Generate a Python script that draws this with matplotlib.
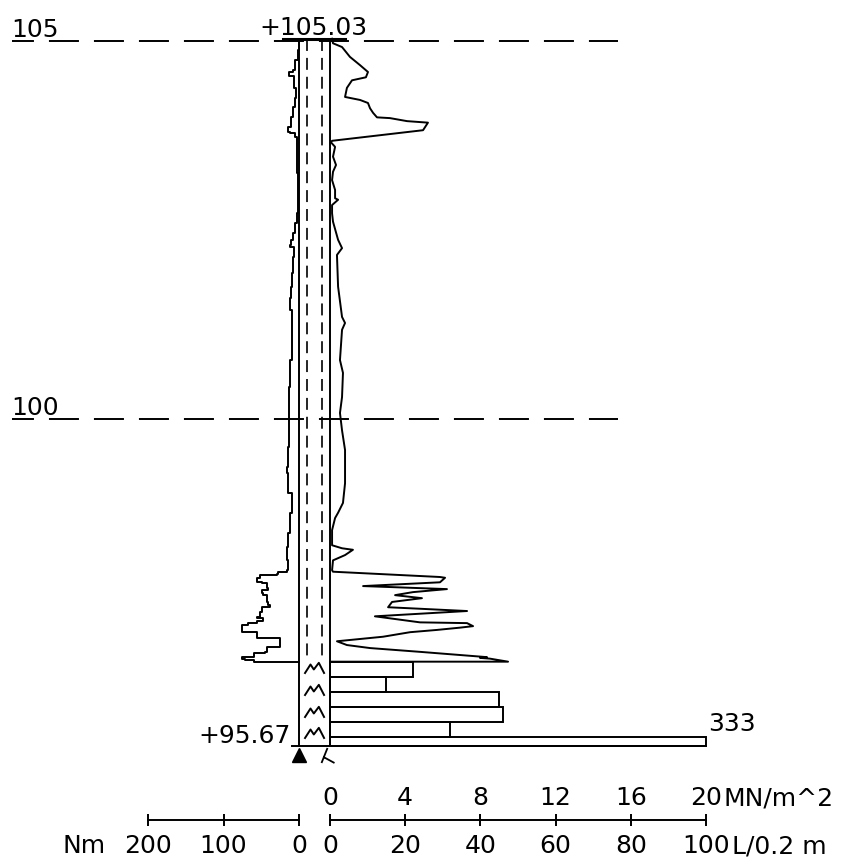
import matplotlib
matplotlib.use("Agg")
import matplotlib.pyplot as plt
from matplotlib.path import Path

plt.rcParams['font.family'] = ['DejaVu Sans']
plt.rcParams['lines.scale_dashes'] = False

# levels (m)
top_level = 105.03
bottom_level = 95.67
ref_levels = [105, 100]

# cone resistance, MN/m^2
q_elev = [105.03, 104.97, 104.92, 104.79, 104.68, 104.59, 104.52, 104.48, 104.38, 104.26,
          104.22, 104.18, 104.11, 104.05, 103.99, 103.98, 103.94, 103.92, 103.82, 103.68,
          103.66, 103.60, 103.47, 103.36, 103.27, 103.16, 103.03, 102.92, 102.90, 102.83,
          102.72, 102.61, 102.37, 102.26, 102.17, 101.75, 101.35, 101.27, 101.18, 100.78,
          100.61, 100.29, 100.08, 99.85, 99.59, 99.15, 98.89, 98.76, 98.69, 98.53,
          98.40, 98.33, 98.29, 98.27, 98.20, 98.13, 98.00, 97.98, 97.91, 97.90,
          97.84, 97.79, 97.75, 97.71, 97.67, 97.63, 97.58, 97.51, 97.49, 97.46,
          97.39, 97.31, 97.30, 97.26, 97.24, 97.21, 97.18, 97.12, 97.06, 97.01,
          96.97, 96.92, 96.85, 96.84, 96.83, 96.79, 96.79]
q_vals = [0.11, 0.16, 0.64, 1.06, 1.60, 2.02, 1.91, 1.17, 0.90, 0.80,
          1.60, 2.02, 2.13, 2.29, 2.50, 3.19, 4.10, 5.21, 4.95, 0.11,
          0.05, 0.27, 0.16, 0.32, 0.16, 0.11, 0.27, 0.27, 0.43, 0.11,
          0.11, 0.16, 0.43, 0.64, 0.37, 0.43, 0.64, 0.80, 0.64, 0.53,
          0.69, 0.64, 0.53, 0.64, 0.80, 0.80, 0.69, 0.43, 0.27, 0.11,
          0.11, 0.11, 0.64, 1.22, 0.80, 0.16, 0.11, 0.16, 5.85, 6.12,
          5.85, 1.76, 6.22, 4.41, 3.46, 4.89, 3.30, 3.09, 4.79, 7.29,
          2.39, 4.79, 7.29, 7.61, 6.91, 5.69, 4.26, 2.82, 0.37, 0.90,
          2.13, 4.79, 8.35, 7.98, 8.51, 9.47, 0.0]

# torque, Nm
torque_elev = [105.03, 104.88, 104.75, 104.62, 104.59, 104.55, 104.54, 104.44, 104.38, 104.25,
               104.13, 103.99, 103.86, 103.80, 103.78, 103.73, 103.60, 103.25, 102.90, 102.72,
               102.59, 102.46, 102.37, 102.30, 102.28, 102.14, 101.93, 101.75, 101.60, 101.44,
               101.18, 100.78, 100.42, 100.03, 99.63, 99.37, 99.29, 99.02, 98.76, 98.49,
               98.31, 98.13, 98.07, 98.00, 97.98, 97.95, 97.94, 97.90, 97.84, 97.83,
               97.76, 97.74, 97.70, 97.67, 97.58, 97.54, 97.51, 97.45, 97.38, 97.37,
               97.33, 97.30, 97.28, 97.21, 97.18, 97.12, 97.10, 97.05, 96.98, 96.92,
               96.90, 96.85, 96.83, 96.81, 96.79, 96.79]
torque_vals = [0, 1, 5, 8, 13, 13, 7, 7, 4, 5,
               8, 11, 15, 12, 5, 3, 3, 1, 1, 3,
               5, 8, 11, 12, 7, 8, 9, 11, 12, 9,
               9, 12, 13, 13, 15, 16, 15, 9, 12, 15,
               16, 15, 15, 16, 28, 29, 52, 55, 49, 43,
               41, 49, 48, 43, 41, 39, 49, 52, 55, 48,
               56, 68, 76, 76, 56, 56, 25, 25, 43, 45,
               59, 75, 72, 59, 56, 0]

# hammered part: half turns per 0.2 m
bar_tops = [96.79, 96.59, 96.39, 96.19, 95.99, 95.79]
bar_bottoms = [96.59, 96.39, 96.19, 95.99, 95.79, 95.67]
bar_turns = [22, 15, 45, 46, 32, 333]
hammer_levels = [96.71, 96.42, 96.13, 95.85]

q_ticks = [0, 4, 8, 12, 16, 20]
turn_ticks = [0, 20, 40, 60, 80, 100]
torque_ticks = [200, 100, 0]

W, H = 865, 860
PX_Q = 18.8    # px per MN/m^2
PX_M = 75.6    # px per m
PX_T = 0.755   # px per Nm
X0 = 330       # px of q = 0
XT0 = 299      # px of torque = 0
Y105 = 41      # px of level 105

def qx(px):
    return (px - X0) / PX_Q

fig = plt.figure(figsize=(W / 100, H / 100), dpi=100)
ax = fig.add_axes([0, 0, 1, 1])
ax.set_xlim(qx(0), qx(W))
ax.set_ylim(105 - (H - Y105) / PX_M, 105 + Y105 / PX_M)
ax.axis('off')

axt = ax.twiny()
axt.set_xlim(XT0 / PX_T, -(W - XT0) / PX_T)
axt.axis('off')

lw = 1.4
fs = 18

# reference levels
for lev in ref_levels:
    ax.plot([qx(12), qx(618)], [lev, lev], color='black', lw=lw,
            linestyle=(5.8, (21.6, 10.8)))
    ax.text(qx(11), lev + 0.05, str(lev), fontsize=fs, ha='left', va='baseline')

# rod column
col_l, col_r = qx(XT0), 0
ax.plot([col_l, col_l], [top_level, bottom_level], color='black', lw=lw)
ax.plot([col_r, col_r], [top_level, bottom_level], color='black', lw=lw)
for xd in [qx(307), qx(322)]:
    ax.plot([xd, xd], [top_level, bar_tops[0]], color='black', lw=1.2,
            linestyle=(0, (8.6, 5)))
ax.plot([qx(283), qx(345)], [top_level, top_level], color='black', lw=2.2)
ax.plot([qx(292), 20], [bottom_level, bottom_level], color='black', lw=lw)

# traces
ax.plot(q_vals, q_elev, color='black', lw=lw)
axt.plot(torque_vals, torque_elev, color='black', lw=lw, drawstyle='steps-pre')

# hammering bars
for t, b, n in zip(bar_tops, bar_bottoms, bar_turns):
    ax.barh(t, min(n, 100) / 5, height=b - t, left=0, align='edge',
            fill=False, edgecolor='black', lw=lw)
ax.text(20.1, bar_tops[-1] + 0.08, str(bar_turns[-1]), fontsize=fs,
        ha='left', va='baseline')

zig = Path([(-30, -16), (-12, 12), (-2, -3), (13, 17), (30, -16)],
           [Path.MOVETO] + [Path.LINETO] * 4)
ax.plot([qx(314)] * len(hammer_levels), hammer_levels, linestyle='none',
        marker=zig, markersize=14.4, mfc='none', mec='black', mew=1.4)

lam = Path([(0, 7.5), (-6, -7.5), (-4, -1.5), (7, -7.5)],
           [Path.MOVETO, Path.LINETO, Path.MOVETO, Path.LINETO])
ax.plot([qx(327)], [bottom_level - 0.12], marker=lam, markersize=10.8,
        mfc='none', mec='black', mew=1.3, linestyle='none')
ax.plot([col_l], [bottom_level - 0.12], marker='^', markersize=10,
        color='black')

ax.text(qx(313), top_level + 0.05, '+%.2f' % top_level, fontsize=fs,
        ha='center', va='baseline')
ax.text(qx(291), bottom_level + 0.045, '+%.2f' % bottom_level, fontsize=fs,
        ha='right', va='baseline')

# scales
y_scale = (H - 820) / H
axs = fig.add_axes([X0 / W, y_scale, 376 / W, 1e-4])
axs.set_xlim(0, 100)
axs.set_xticks(turn_ticks)
axs.set_yticks([])
for s in ['top', 'left', 'right']:
    axs.spines[s].set_visible(False)
axs.spines['bottom'].set_linewidth(lw)
axs.set_facecolor('none')
axs.tick_params(axis='x', direction='inout', length=8, width=lw,
                labelsize=fs, pad=6)
sec = axs.secondary_xaxis('top', functions=(lambda v: v / 5, lambda v: v * 5))
sec.set_xticks(q_ticks)
sec.spines['top'].set_visible(False)
sec.tick_params(length=0, labelsize=fs, pad=7)

axn = fig.add_axes([(XT0 - 200 * PX_T) / W, y_scale, 200 * PX_T / W, 1e-4])
axn.set_xlim(200, 0)
axn.set_xticks(torque_ticks)
axn.set_yticks([])
for s in ['top', 'left', 'right']:
    axn.spines[s].set_visible(False)
axn.spines['bottom'].set_linewidth(lw)
axn.set_facecolor('none')
axn.tick_params(axis='x', direction='inout', length=8, width=lw,
                labelsize=fs, pad=6)

fig.text(724 / W, 1 - 806 / H, 'MN/m^2', fontsize=fs, ha='left', va='baseline')
fig.text(732 / W, 1 - 853 / H, 'L/0.2 m', fontsize=fs, ha='left', va='baseline')
fig.text(106 / W, 1 - 853 / H, 'Nm', fontsize=fs, ha='right', va='baseline')

fig.savefig('out.png', dpi=100)
